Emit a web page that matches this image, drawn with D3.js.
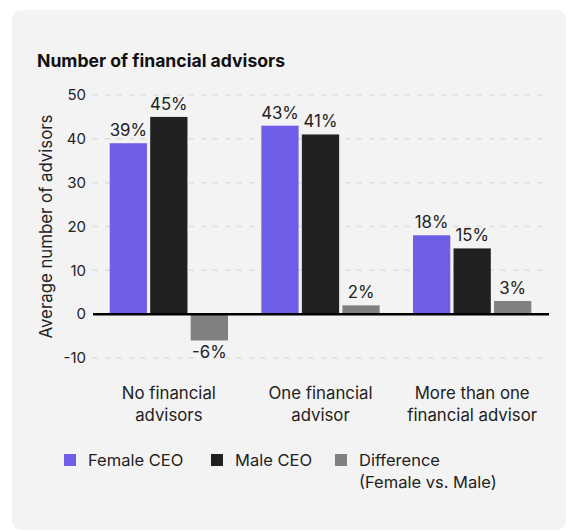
<!DOCTYPE html>
<html>
<head>
<meta charset="utf-8">
<script src="https://cdn.jsdelivr.net/npm/d3@7/dist/d3.min.js"></script>
<style>
  html, body { margin: 0; padding: 0; background: #ffffff; }
  svg { display: block; font-family: Inter, "Open Sans", sans-serif; }
</style>
</head>
<body>
<svg id="chart" width="570" height="531"></svg>
<script>
// Categories and series values
const categories = [["No financial", "advisors"], ["One financial", "advisor"], ["More than one", "financial advisor"]];
const seriesNames = ["Female CEO", "Male CEO", "Difference"];
const femaleCEO = [39, 43, 18];
const maleCEO = [45, 41, 15];
const difference = [-6, 2, 3];
const yTicks = [-10, 0, 10, 20, 30, 40, 50];

const colors = { "Female CEO": "#6f5fe8", "Male CEO": "#212121", "Difference": "#808080" };

// Plain hyphen for negatives, as in the printed labels
const fmt = v => String(v);

const svg = d3.select("#chart");

// Card background
svg.append("rect")
  .attr("x", 12).attr("y", 10).attr("width", 554).attr("height", 520)
  .attr("rx", 9).attr("fill", "#f3f3f3");

// Title
svg.append("text")
  .attr("x", 37).attr("y", 67)
  .attr("font-size", 17.6).attr("font-weight", 700).attr("fill", "#111")
  .text("Number of financial advisors");

const left = 93, right = 548;
const y = d3.scaleLinear().domain([-10, 50]).range([358, 95]);

const groupKeys = categories.map((c, i) => i);
const x0 = d3.scaleBand().domain(groupKeys).range([left, right]).paddingInner(0.22).paddingOuter(0.11);
const x1 = d3.scaleBand().domain(seriesNames).range([0, x0.bandwidth()]).paddingInner(0.08);

// Gridlines
svg.append("g")
  .selectAll("line")
  .data(yTicks.filter(t => t !== 0))
  .join("line")
  .attr("x1", left).attr("x2", right - 1)
  .attr("y1", d => y(d)).attr("y2", d => y(d))
  .attr("stroke", "#dedede").attr("stroke-width", 1.5)
  .attr("stroke-dasharray", "5,7");

// Y axis tick labels
const yAxis = d3.axisLeft(y).tickValues(yTicks).tickSize(0).tickPadding(0).tickFormat(fmt);
const gy = svg.append("g").attr("transform", `translate(${86},0)`).call(yAxis);
gy.select(".domain").remove();
gy.selectAll("text")
  .attr("font-size", 15).attr("fill", "#222")
  .attr("font-family", "Inter, sans-serif");

// Y axis title
svg.append("text")
  .attr("transform", `translate(52,${y(20)}) rotate(-90)`)
  .attr("text-anchor", "middle")
  .attr("font-size", 16.8).attr("fill", "#222")
  .text("Average number of advisors");

// Bars
const rows = groupKeys.map(i => ({
  i,
  values: [
    { key: "Female CEO", v: femaleCEO[i] },
    { key: "Male CEO", v: maleCEO[i] },
    { key: "Difference", v: difference[i] }
  ]
}));

const groups = svg.append("g").selectAll("g")
  .data(rows).join("g")
  .attr("transform", d => `translate(${x0(d.i)},0)`);

groups.selectAll("rect")
  .data(d => d.values).join("rect")
  .attr("x", d => x1(d.key))
  .attr("width", x1.bandwidth())
  .attr("y", d => y(Math.max(0, d.v)))
  .attr("height", d => Math.abs(y(d.v) - y(0)))
  .attr("fill", d => colors[d.key]);

groups.selectAll("text.val")
  .data(d => d.values).join("text")
  .attr("class", "val")
  .attr("x", d => x1(d.key) + x1.bandwidth() / 2)
  .attr("y", d => d.v >= 0 ? y(d.v) - 7 : y(d.v) + 18)
  .attr("text-anchor", "middle")
  .attr("font-size", 16.8).attr("fill", "#222")
  .text(d => fmt(d.v) + "%");

// Zero line
svg.append("line")
  .attr("x1", left).attr("x2", right + 1)
  .attr("y1", y(0)).attr("y2", y(0))
  .attr("stroke", "#000").attr("stroke-width", 2.5);

// Category labels
const xAxis = svg.append("g");
xAxis.selectAll("text")
  .data(categories).join("text")
  .attr("x", (d, i) => x0(i) + x0.bandwidth() / 2)
  .attr("y", 399)
  .attr("text-anchor", "middle")
  .attr("font-size", 16.8).attr("fill", "#222")
  .each(function (d) {
    d3.select(this).selectAll("tspan").data(d).join("tspan")
      .attr("x", d3.select(this).attr("x"))
      .attr("dy", (t, k) => k === 0 ? 0 : 22)
      .text(t => t);
  });

// Legend
const legendItems = [
  { key: "Female CEO", lines: ["Female CEO"], x: 64 },
  { key: "Male CEO", lines: ["Male CEO"], x: 211 },
  { key: "Difference", lines: ["Difference", "(Female vs. Male)"], x: 335 }
];
const lg = svg.append("g").selectAll("g").data(legendItems).join("g")
  .attr("transform", d => `translate(${d.x},454)`);
lg.append("rect").attr("width", 12).attr("height", 12).attr("fill", d => colors[d.key]);
lg.append("text")
  .attr("x", 24).attr("y", 12)
  .attr("font-size", 16.5).attr("fill", "#222")
  .each(function (d) {
    d3.select(this).selectAll("tspan").data(d.lines).join("tspan")
      .attr("x", 24)
      .attr("dy", (t, k) => k === 0 ? 0 : 22)
      .text(t => t);
  });
</script>
</body>
</html>
